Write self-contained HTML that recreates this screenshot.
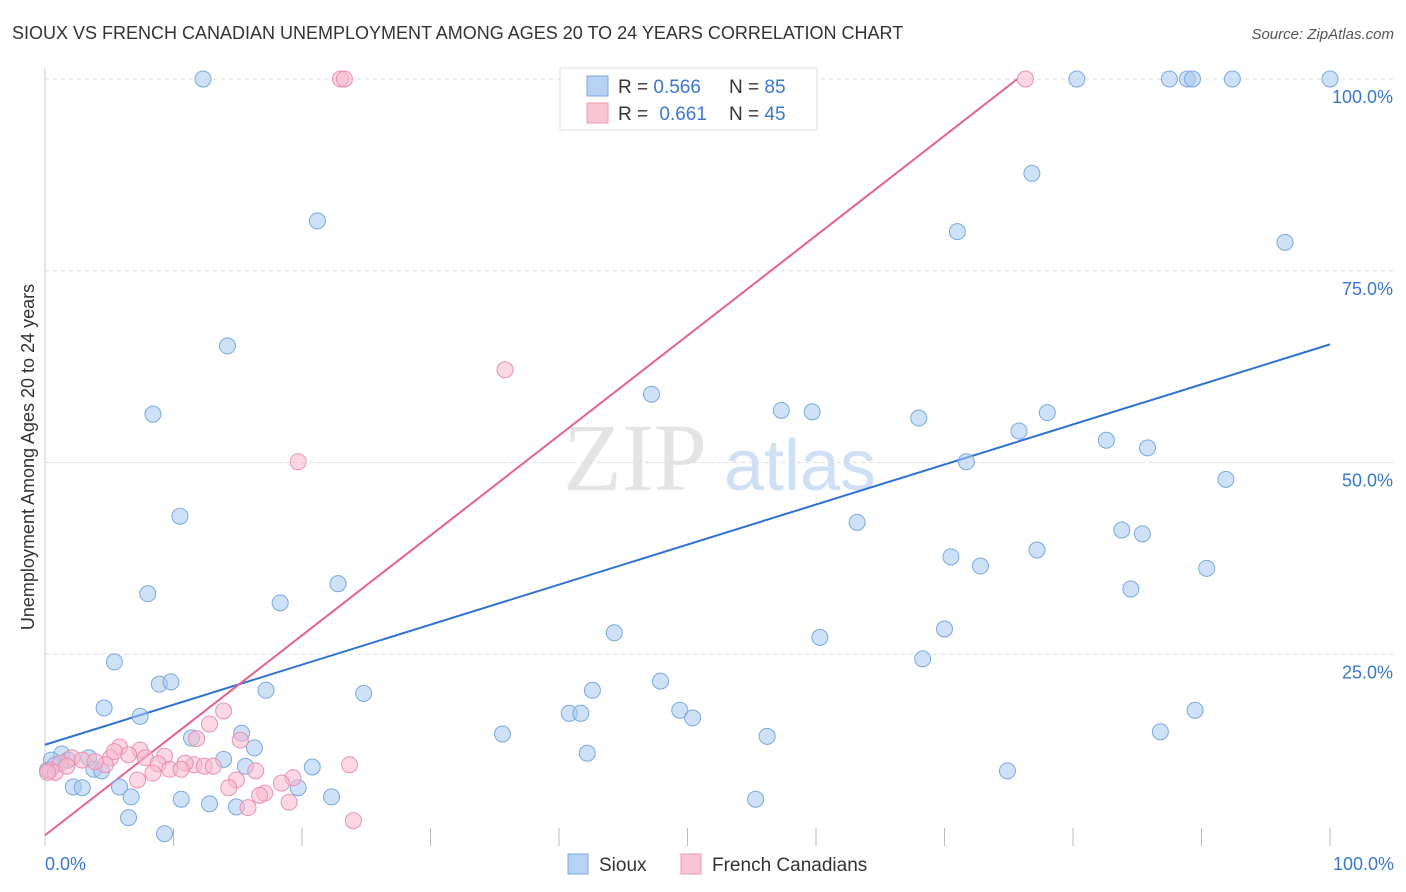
<!DOCTYPE html>
<html><head><meta charset="utf-8"><style>
body{margin:0;background:#fff;font-family:"Liberation Sans",sans-serif;}
svg{display:block}
</style></head><body>
<svg id="chart" width="1406" height="892">
<text x="12" y="39" font-size="18" fill="#333">SIOUX VS FRENCH CANADIAN UNEMPLOYMENT AMONG AGES 20 TO 24 YEARS CORRELATION CHART</text>
<text x="1394" y="39" font-size="15" fill="#555" font-style="italic" text-anchor="end">Source: ZipAtlas.com</text>
<text x="635" y="490" font-size="96" fill="#e4e4e4" font-family="Liberation Serif,serif" text-anchor="middle">ZIP</text>
<text x="800" y="490" font-size="72" fill="#cfe0f5" text-anchor="middle">atlas</text>
<text transform="translate(34,457) rotate(-90)" font-size="18" fill="#333" text-anchor="middle">Unemployment Among Ages 20 to 24 years</text>
<g id="grid"></g><g id="ticks"></g><g id="lines"></g><g id="points"></g>
<g>
<rect x="560" y="68" width="257" height="62" fill="#fff" stroke="#ddd"/>
<rect x="587" y="76" width="21" height="20" fill="#b8d2f4" stroke="#7aa8e0"/>
<rect x="587" y="103" width="21" height="20" fill="#f9c4d4" stroke="#ec98b4"/>
<text x="618" y="93" font-size="19" fill="#333">R = <tspan fill="#3a78d0">0.566</tspan></text>
<text x="729" y="93" font-size="19" fill="#333">N = <tspan fill="#3a78d0">85</tspan></text>
<text x="618" y="120" font-size="19" fill="#333">R = <tspan fill="#3a78d0" dx="6">0.661</tspan></text>
<text x="729" y="120" font-size="19" fill="#333">N = <tspan fill="#3a78d0">45</tspan></text>
</g>
<g>
<rect x="568" y="854" width="20" height="20" fill="#b8d2f4" stroke="#7aa8e0"/>
<text x="599" y="871" font-size="19" fill="#333">Sioux</text>
<rect x="681" y="854" width="20" height="20" fill="#f9c4d4" stroke="#ec98b4"/>
<text x="712" y="871" font-size="19" fill="#333">French Canadians</text>
</g>
</svg>
<script>
const xTicks=[0,10,20,30,40,50,60,70,80,90,100];
const yTicks=[25,50,75,100];
const siouxX=[12.3,55.6,80.3,87.5,88.9,89.3,92.4,100,76.8,21.2,71.0,96.5,14.2,47.2,8.4,57.3,59.7,68.0,78.0,75.8,82.6,85.8,71.7,91.9,10.5,63.2,83.8,85.4,70.5,77.2,72.8,90.4,8.0,22.8,84.5,18.3,44.3,60.3,70.0,5.4,68.3,8.9,9.8,47.9,17.2,42.6,24.8,4.6,7.4,40.8,41.7,49.4,50.4,89.5,35.6,56.2,86.8,15.3,11.4,16.3,42.2,1.3,3.4,0.5,13.9,1.8,20.8,15.6,74.9,3.8,4.4,2.2,2.9,5.8,6.7,19.7,10.6,12.8,14.9,22.3,55.3,6.5,9.3,0.2,0.8];
const siouxY=[100,100,100,100,100,100,100,100,87.7,81.5,80.1,78.7,65.2,58.9,56.3,56.8,56.6,55.8,56.5,54.1,52.9,51.9,50.1,47.8,43.0,42.2,41.2,40.7,37.7,38.6,36.5,36.2,32.9,34.2,33.5,31.7,27.8,27.2,28.3,24.0,24.4,21.1,21.4,21.5,20.3,20.3,19.9,18.0,16.9,17.3,17.3,17.7,16.7,17.7,14.6,14.3,14.9,14.7,14.1,12.8,12.1,12.0,11.5,11.2,11.3,11.2,10.3,10.4,9.8,10.0,9.8,7.7,7.6,7.7,6.4,7.6,6.1,5.5,5.1,6.4,6.1,3.7,1.6,9.9,10.6];
const frX=[23.0,23.3,76.3,35.8,19.7,13.9,12.8,15.2,11.8,5.8,7.4,6.5,9.3,7.8,5.1,2.1,2.9,1.2,4.7,11.6,10.9,8.8,12.4,13.1,9.7,10.6,8.4,0.4,0.8,16.4,23.7,19.3,14.9,18.4,7.2,14.3,17.1,16.7,19.0,15.8,24.0,3.9,1.7,0.2,5.4];
const frY=[100,100,100,62.1,50.1,17.6,15.9,13.8,14.0,12.9,12.5,11.9,11.7,11.5,11.5,11.5,11.2,10.8,10.6,10.6,10.8,10.7,10.4,10.4,10.0,10.0,9.5,9.9,9.6,9.8,10.6,8.9,8.6,8.2,8.6,7.6,6.9,6.6,5.7,5.0,3.3,11.0,10.4,9.6,12.3];
const siouxTrend=[13.2,65.4];
const frTrend=[1.4,1.303];
const X0=45,X1=1330,Y0=846,Y1=79;
const sx=v=>X0+(X1-X0)*v/100, sy=v=>Y0-(Y0-Y1)*v/100;
const NS="http://www.w3.org/2000/svg";
function mk(t,a,p){const e=document.createElementNS(NS,t);for(const k in a)e.setAttribute(k,a[k]);p.appendChild(e);return e;}
const grid=document.getElementById('grid'),ticks=document.getElementById('ticks');
yTicks.forEach(v=>{
 const l=mk('line',{x1:X0,x2:1395,y1:sy(v),y2:sy(v),stroke:'#ddd','stroke-dasharray':'4,4'},grid);
 
 
 const t=mk('text',{x:1393,y:sy(v)+24,'font-size':18,fill:'#3a78d0','text-anchor':'end'},ticks);
 t.textContent=v.toFixed(1)+'%';
 
 
});
const ax=mk('line',{x1:X0,x2:X0,y1:68,y2:Y0,stroke:'#ccc'},ticks);


xTicks.forEach(v=>{
 if(v===0)return;
 const l=mk('line',{x1:sx(v),x2:sx(v),y1:828,y2:Y0,stroke:'#bbb'},ticks);
 
 
});
[[0,'start',45],[100,'end',1394]].forEach(d=>{
 const t=mk('text',{x:d[2],y:870,'font-size':18,fill:'#3a78d0','text-anchor':d[1]},ticks);
 t.textContent=d[0].toFixed(1)+'%';
 
 
});
const pts=document.getElementById('points');
function draw(xs,ys,fill,stroke,name){xs.forEach((x,i)=>{
 const c=mk('circle',{cx:sx(x),cy:sy(ys[i]),r:8,fill:fill,'fill-opacity':0.55,stroke:stroke,'stroke-width':1},pts);
 
 
});}
draw(siouxX,siouxY,'#a8c8f0','#7aa8e0','sioux-point');
draw(frX,frY,'#f7b8cc','#ea90b0','french-canadian-point');
const lines=document.getElementById('lines');
const bl=mk('line',{x1:sx(0),y1:sy(siouxTrend[0]),x2:sx(100),y2:sy(siouxTrend[1]),stroke:'#2f72d6','stroke-width':2},lines);


const xe=(100-frTrend[0])/frTrend[1];
const pl=mk('line',{x1:sx(0),y1:sy(frTrend[0]),x2:sx(xe),y2:sy(100),stroke:'#e8608c','stroke-width':2},lines);


</script>
</body></html>
